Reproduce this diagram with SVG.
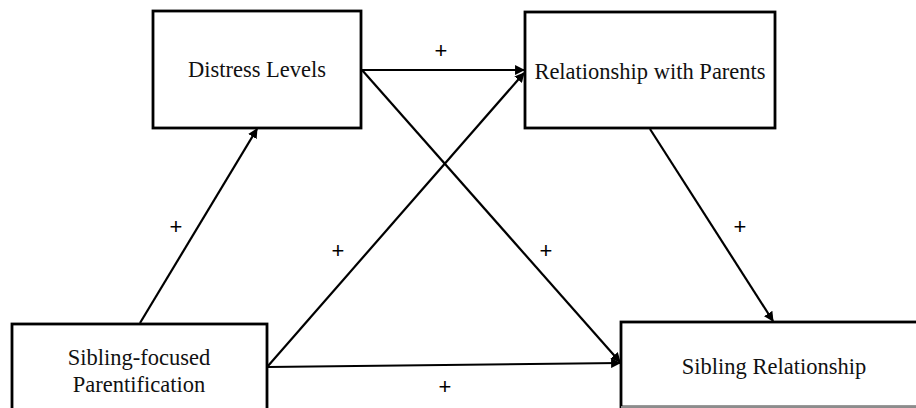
<svg xmlns="http://www.w3.org/2000/svg" width="916" height="408" viewBox="0 0 916 408">
<defs>
<style>
.box{fill:#fff;stroke:#000;stroke-width:2.8}
.lbl{font-family:"Liberation Serif","Times New Roman",serif;font-size:22.5px;fill:#111;text-anchor:middle}
.pl{font-family:"Liberation Sans",Arial,sans-serif;font-size:22px;fill:#000;text-anchor:middle}
.cn{stroke:#000;stroke-width:2.2;fill:none;marker-end:url(#ah)}
</style>
<marker id="ah" viewBox="0 0 10 10" refX="9" refY="5" markerWidth="4.5" markerHeight="4.5" orient="auto" markerUnits="strokeWidth">
<path d="M0,0 L10,5 L0,10 z" fill="#000"/>
</marker>
</defs>
<rect width="916" height="408" fill="#fff"/>
<g id="n-distress">
<rect class="box" x="153" y="11" width="208" height="117"/>
<text class="lbl" x="257" y="77">Distress Levels</text>
</g>
<g id="n-parents">
<rect class="box" x="525" y="12" width="250" height="116"/>
<text class="lbl" x="650" y="79">Relationship with Parents</text>
</g>
<g id="n-parentification">
<rect class="box" x="12" y="324" width="255" height="100"/>
<text class="lbl" x="139" y="365">Sibling-focused</text>
<text class="lbl" x="139" y="392">Parentification</text>
</g>
<g id="n-sibling">
<rect class="box" x="621" y="322" width="310" height="85"/>
<line x1="621" y1="407" x2="916" y2="407" stroke="#bbb" stroke-width="1.5"/>
<text class="lbl" x="774" y="374">Sibling Relationship</text>
</g>
<g id="connectors">
<line class="cn" x1="140" y1="323" x2="257" y2="129"/>
<line class="cn" x1="362" y1="70" x2="524" y2="70"/>
<line class="cn" x1="362" y1="70" x2="620" y2="362"/>
<line class="cn" x1="268" y1="366" x2="524" y2="73"/>
<line class="cn" x1="268" y1="367" x2="620" y2="363"/>
<line class="cn" x1="650" y1="129" x2="773" y2="321"/>
</g>
<g id="labels">
<text class="pl" x="441" y="58">+</text>
<text class="pl" x="176" y="234">+</text>
<text class="pl" x="338" y="258">+</text>
<text class="pl" x="546" y="258">+</text>
<text class="pl" x="740" y="234">+</text>
<text class="pl" x="445" y="394">+</text>
</g>
</svg>
